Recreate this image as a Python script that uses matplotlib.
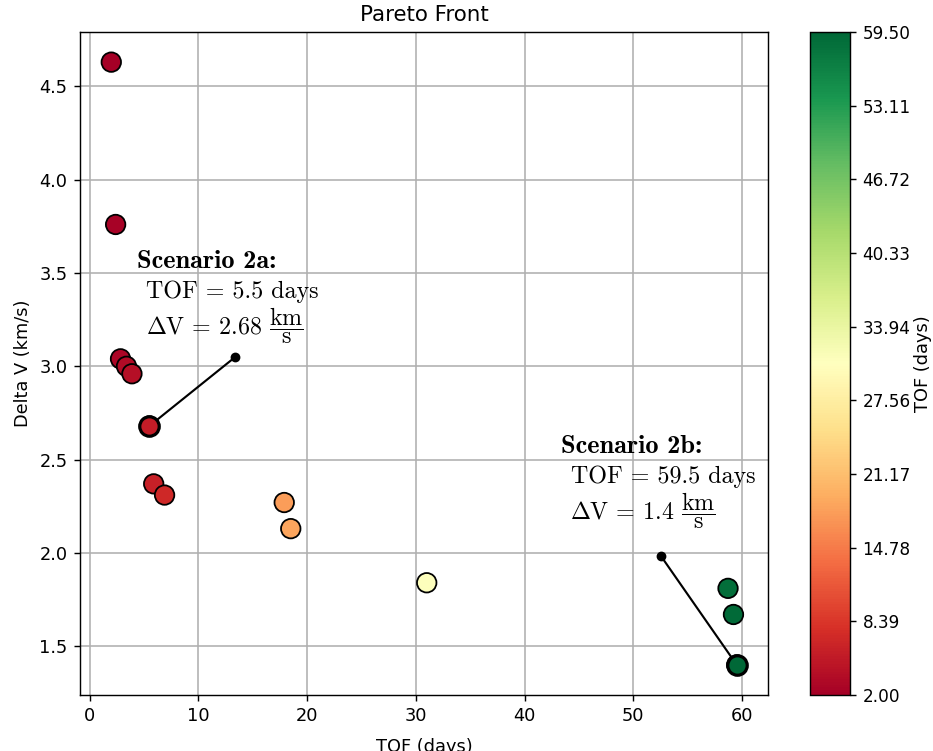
import numpy as np
import matplotlib
matplotlib.use("Agg")
from matplotlib import pyplot as plt

plt.rcParams['mathtext.fontset'] = 'cm'

# pareto solutions: time of flight (days) vs delta v (km/s)
tof = [2.0, 2.4, 2.85, 3.4, 3.9, 5.5, 5.9, 6.9, 17.9, 18.5, 31.0, 58.7, 59.2, 59.5]
dv = [4.63, 3.76, 3.04, 3.0, 2.96, 2.68, 2.37, 2.31, 2.27, 2.13, 1.84, 1.81, 1.67, 1.40]

# picked scenarios: (tof, dv) of the solution and label anchor
scen_names = ['2a', '2b']
scen_tof = [5.5, 59.5]
scen_dv = [2.68, 1.40]
anchor_tof = [13.4, 52.5]
anchor_dv = [3.05, 1.986]
text_x = [[4.35, 5.23, 5.17], [43.3, 44.3, 44.15]]
text_y = [[3.526, 3.365, 3.168], [2.537, 2.375, 2.178]]

fig = plt.figure(figsize=(933 / 128, 751 / 128), dpi=128)
ax = fig.add_axes([80 / 933, 56 / 751, 688 / 933, 663 / 751])
cax = fig.add_axes([810 / 933, 56 / 751, 40 / 933, 663 / 751])

sc = ax.scatter(tof, dv, c=tof, cmap='RdYlGn', vmin=min(tof), vmax=max(tof),
                s=120, edgecolors='k', linewidths=1.0, zorder=3)

for i in range(len(scen_names)):
    ax.plot([anchor_tof[i], scen_tof[i]], [anchor_dv[i], scen_dv[i]], 'k-', lw=1.2, zorder=2)
    ax.plot(anchor_tof[i], anchor_dv[i], 'ko', ms=4.5, zorder=2)
    ax.scatter([scen_tof[i]], [scen_dv[i]], c=[scen_tof[i]], cmap='RdYlGn',
               vmin=min(tof), vmax=max(tof), s=120, edgecolors='k', linewidths=1.8, zorder=4)
    ax.text(text_x[i][0], text_y[i][0], 'Scenario %s:' % scen_names[i],
            family='cmb10', fontsize=14.8, va='baseline', zorder=5)
    ax.text(text_x[i][1], text_y[i][1], 'TOF = %s days' % scen_tof[i],
            family='cmr10', fontsize=13.5, va='baseline', zorder=5)
    ax.text(text_x[i][2], text_y[i][2],
            r'$\Delta$V = %s $\dfrac{\mathrm{km}}{\mathrm{s}}$' % scen_dv[i],
            family='cmr10', fontsize=13.5, va='baseline', zorder=5)

ax.grid(True, color='#b0b0b0', lw=0.9)
ax.set_axisbelow(True)
ax.set_title('Pareto Front', fontsize=12)
ax.set_xlabel('TOF (days)', labelpad=7)
ax.set_ylabel('Delta V (km/s)')

cb = fig.colorbar(sc, cax=cax, ticks=np.linspace(min(tof), max(tof), 10), format='%.2f')
cb.ax.tick_params(labelsize=9.5)
cb.set_label('TOF (days)', labelpad=2)

fig.savefig('out.png', dpi=128)
